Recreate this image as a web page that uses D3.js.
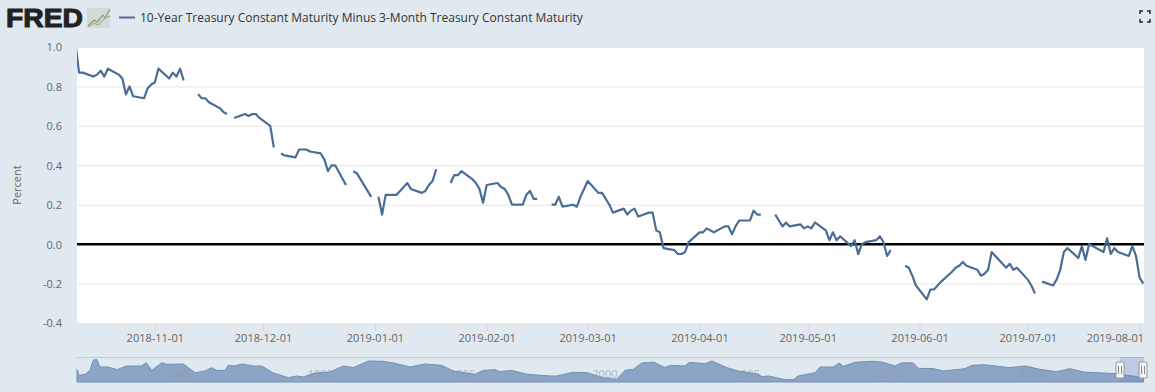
<!DOCTYPE html>
<html>
<head>
<meta charset="utf-8">
<script src="https://cdnjs.cloudflare.com/ajax/libs/d3/7.8.5/d3.min.js"></script>
<style>
html, body { margin: 0; padding: 0; background: #e1e9f0; overflow: hidden; }
text { font-family: "Open Sans", sans-serif; }
.axis text { fill: #666; font-size: 11px; }
</style>
</head>
<body>
<script>
var w = 1155;
var h = 392;

var seriesName = "10-Year Treasury Constant Maturity Minus 3-Month Treasury Constant Maturity";

//Tick labels
var yTicks = [-0.4, -0.2, 0, 0.2, 0.4, 0.6, 0.8, 1.0];
var xTicks = ["2018-11-01", "2018-12-01", "2019-01-01", "2019-02-01", "2019-03-01", "2019-04-01", "2019-05-01", "2019-06-01", "2019-07-01", "2019-08-01"];
var navTicks = [1985, 1990, 1995, 2000, 2005, 2010, 2015];

//Daily dates, one line per month, same layout as the spread array below
var tradeDates = [
    "2018-10-10","2018-10-11","2018-10-12","2018-10-15","2018-10-16","2018-10-17","2018-10-18","2018-10-19","2018-10-22","2018-10-23","2018-10-24","2018-10-25","2018-10-26","2018-10-29","2018-10-30","2018-10-31",
    "2018-11-01","2018-11-02","2018-11-05","2018-11-06","2018-11-07","2018-11-08","2018-11-09","2018-11-12","2018-11-13","2018-11-14","2018-11-15","2018-11-16","2018-11-19","2018-11-20","2018-11-21","2018-11-22","2018-11-23","2018-11-26","2018-11-27","2018-11-28","2018-11-29","2018-11-30",
    "2018-12-03","2018-12-04","2018-12-05","2018-12-06","2018-12-07","2018-12-10","2018-12-11","2018-12-12","2018-12-13","2018-12-14","2018-12-17","2018-12-18","2018-12-19","2018-12-20","2018-12-21","2018-12-24","2018-12-25","2018-12-26","2018-12-27","2018-12-28","2018-12-31",
    "2019-01-01","2019-01-02","2019-01-03","2019-01-04","2019-01-07","2019-01-08","2019-01-09","2019-01-10","2019-01-11","2019-01-14","2019-01-15","2019-01-16","2019-01-17","2019-01-18","2019-01-21","2019-01-22","2019-01-23","2019-01-24","2019-01-25","2019-01-28","2019-01-29","2019-01-30","2019-01-31",
    "2019-02-01","2019-02-04","2019-02-05","2019-02-06","2019-02-07","2019-02-08","2019-02-11","2019-02-12","2019-02-13","2019-02-14","2019-02-15","2019-02-18","2019-02-19","2019-02-20","2019-02-21","2019-02-22","2019-02-25","2019-02-26","2019-02-27","2019-02-28",
    "2019-03-01","2019-03-04","2019-03-05","2019-03-06","2019-03-07","2019-03-08","2019-03-11","2019-03-12","2019-03-13","2019-03-14","2019-03-15","2019-03-18","2019-03-19","2019-03-20","2019-03-21","2019-03-22","2019-03-25","2019-03-26","2019-03-27","2019-03-28","2019-03-29",
    "2019-04-01","2019-04-02","2019-04-03","2019-04-04","2019-04-05","2019-04-08","2019-04-09","2019-04-10","2019-04-11","2019-04-12","2019-04-15","2019-04-16","2019-04-17","2019-04-18","2019-04-19","2019-04-22","2019-04-23","2019-04-24","2019-04-25","2019-04-26","2019-04-29","2019-04-30",
    "2019-05-01","2019-05-02","2019-05-03","2019-05-06","2019-05-07","2019-05-08","2019-05-09","2019-05-10","2019-05-13","2019-05-14","2019-05-15","2019-05-16","2019-05-17","2019-05-20","2019-05-21","2019-05-22","2019-05-23","2019-05-24","2019-05-27","2019-05-28","2019-05-29","2019-05-30","2019-05-31",
    "2019-06-03","2019-06-04","2019-06-05","2019-06-06","2019-06-07","2019-06-10","2019-06-11","2019-06-12","2019-06-13","2019-06-14","2019-06-17","2019-06-18","2019-06-19","2019-06-20","2019-06-21","2019-06-24","2019-06-25","2019-06-26","2019-06-27","2019-06-28",
    "2019-07-01","2019-07-02","2019-07-03","2019-07-04","2019-07-05","2019-07-08","2019-07-09","2019-07-10","2019-07-11","2019-07-12","2019-07-15","2019-07-16","2019-07-17","2019-07-18","2019-07-19","2019-07-22","2019-07-23","2019-07-24","2019-07-25","2019-07-26","2019-07-29","2019-07-30","2019-07-31",
    "2019-08-01","2019-08-02"
];

//Spread in percent, null on market holidays
var spread = [
    1.02,0.87,0.87,0.85,0.86,0.88,0.85,0.89,0.86,0.84,0.76,0.80,0.75,0.74,0.79,0.81,
    0.82,0.89,0.84,0.87,0.85,0.89,0.83,null,0.76,0.74,0.74,0.72,0.69,0.67,0.66,null,0.64,0.66,0.65,0.66,0.66,0.64,
    0.60,0.49,null,0.46,0.45,0.44,0.48,0.48,0.48,0.47,0.46,0.43,0.37,0.40,0.40,0.30,null,0.37,0.36,0.33,0.24,
    null,0.24,0.15,0.25,0.25,0.27,0.29,0.31,0.28,0.26,0.27,0.30,0.32,0.38,null,0.31,0.35,0.35,0.37,0.33,0.31,0.28,0.21,
    0.30,0.31,0.29,0.28,0.25,0.20,0.20,0.25,0.27,0.23,0.23,null,0.20,0.20,0.24,0.19,0.20,0.19,0.24,0.28,
    0.32,0.26,0.26,0.23,0.20,0.16,0.18,0.15,0.17,0.18,0.14,0.16,0.16,0.07,0.06,-0.02,-0.03,-0.05,-0.05,-0.04,0.01,
    0.06,0.06,0.08,0.07,0.06,0.09,0.09,0.05,0.09,0.12,0.12,0.17,0.15,0.15,null,0.15,0.12,0.09,0.11,0.09,0.10,0.08,
    0.09,0.08,0.11,0.07,0.02,0.06,0.02,0.04,-0.01,0.02,-0.05,0.00,0.01,0.02,0.04,0.01,-0.06,-0.03,null,-0.11,-0.12,-0.16,-0.21,
    -0.28,-0.23,-0.23,-0.21,-0.19,-0.14,-0.12,-0.11,-0.09,-0.11,-0.13,-0.16,-0.15,-0.13,-0.04,-0.10,-0.12,-0.10,-0.13,-0.12,
    -0.18,-0.21,-0.25,null,-0.19,-0.21,-0.18,-0.13,-0.04,-0.02,-0.07,-0.01,-0.08,0.00,-0.01,-0.04,0.03,-0.05,-0.02,-0.04,-0.06,-0.01,-0.06,
    -0.17,-0.20
];

//Full history shown in the navigator strip
var navYears = [1982.1,1982.18,1982.38,1982.56,1982.67,1982.79,1982.91,1983.2,1983.5,1983.85,1984.37,1984.53,1984.73,1985.08,1985.25,1985.84,1986.25,1986.6,1986.83,1987.01,1987.3,1987.42,1987.65,1987.89,1988.3,1988.59,1989,1989.53,1989.82,1990.05,1990.47,1990.99,1991.46,1991.81,1992.34,1992.86,1993.22,1993.8,1994.33,1994.91,1995.32,1996.09,1996.38,1996.79,1996.96,1997.37,1997.91,1998.73,1998.96,1999.54,2000.02,2000.6,2001.07,2001.36,2001.65,2001.95,2002.36,2002.77,2002.95,2003.47,2003.62,2004.17,2004.41,2004.94,2005.34,2006.05,2006.17,2006.4,2006.93,2007.28,2007.45,2008.04,2008.22,2008.68,2008.89,2009.03,2009.45,2010.03,2010.38,2010.85,2011.09,2011.49,2011.67,2012.2,2012.55,2013.31,2013.55,2013.96,2014.89,2015.42,2015.95,2016.53,2017,2017.47,2018.64,2019.58];
var navValues = [1.93,0.63,0.86,1.77,4.07,4.3,2.54,2.54,1.93,2.77,2.77,3.53,1.77,3.53,3.15,3.23,1.24,1.62,2.39,1.77,1.77,2.92,2.77,3.23,2.77,2.77,1.16,0.09,0.48,0.25,1.16,1.39,2.77,2.39,3.91,3.84,3.46,2.54,3.23,2.92,1.62,0.86,1.77,1.93,1.47,1.77,0.86,0.48,0.48,1.32,1.24,0.09,-0.29,1.77,2.0,3.46,3.68,2.39,2.92,2.77,3.61,3.3,3.91,2.39,1.62,0.86,0.32,0.48,-0.29,-0.37,0.48,1.24,2.54,2.54,3.46,2.69,3.61,3.84,3.68,2.77,3.53,3.46,2.23,2.16,1.62,2.16,2.92,3.07,2.39,2.77,2.0,1.47,2.16,1.39,1.01,0.09];

var parseDate = d3.timeParse("%Y-%m-%d");
var points = tradeDates.map(function(d, i) {
    return { date: parseDate(d), value: spread[i] };
});
var navPoints = navYears.map(function(d, i) {
    return { year: d, value: navValues[i] };
});

//Create SVG element
var svg = d3.select("body")
            .append("svg")
            .attr("width", w)
            .attr("height", h)
            .style("display", "block");

var plot = { left: 77, right: 1144, top: 47, bottom: 323 };

//x scale is set from two month ticks so the plot edges cut the first point
var x = d3.scaleTime()
    .domain([parseDate("2018-11-01"), parseDate("2019-08-01")])
    .range([154.8, 1139.6]);

var y = d3.scaleLinear()
    .domain([-0.4, 1])
    .range([plot.bottom, plot.top]);

//Plot background
svg.append("rect")
    .attr("x", plot.left)
    .attr("y", plot.top)
    .attr("width", plot.right - plot.left)
    .attr("height", plot.bottom - plot.top)
    .attr("fill", "#fff");

svg.append("clipPath")
    .attr("id", "plot-clip")
    .append("rect")
    .attr("x", plot.left)
    .attr("y", plot.top)
    .attr("width", plot.right - plot.left)
    .attr("height", plot.bottom - plot.top);

//y axis with gridlines
var yAxis = svg.append("g")
    .attr("class", "axis")
    .attr("transform", "translate(" + plot.left + ",0)")
    .call(d3.axisLeft(y)
        .tickValues(yTicks)
        .tickFormat(d3.format(".1f"))
        .tickSize(-(plot.right - plot.left))
        .tickPadding(15));
yAxis.select(".domain").remove();
yAxis.selectAll("line").attr("stroke", "#e6e6e6");
yAxis.selectAll("text").attr("dy", "0.36em").text(function(d) { return d3.format(".1f")(d).replace("−", "-"); });

//Zero line sits on top of the grid
svg.append("line")
    .attr("x1", plot.left)
    .attr("x2", plot.right)
    .attr("y1", y(0))
    .attr("y2", y(0))
    .attr("stroke", "#000")
    .attr("stroke-width", 2.5);

//x axis, the last label is pulled back inside the chart
var xAxis = svg.append("g")
    .attr("class", "axis")
    .attr("transform", "translate(0," + plot.bottom + ")")
    .call(d3.axisBottom(x)
        .tickValues(xTicks.map(parseDate))
        .tickFormat(d3.timeFormat("%Y-%m-%d"))
        .tickSize(8)
        .tickPadding(3));
xAxis.select(".domain").remove();
xAxis.selectAll("line").attr("stroke", "#ccd6eb");
xAxis.selectAll("text")
    .attr("text-anchor", function(d, i) { return i == xTicks.length - 1 ? "end" : "middle"; })
    .attr("dx", function(d, i) { return i == xTicks.length - 1 ? 4 : 0; });

//Series line, broken where the value is null
var line = d3.line()
    .defined(function(d) { return d.value != null; })
    .x(function(d) { return x(d.date); })
    .y(function(d) { return y(d.value); });

svg.append("path")
    .datum(points)
    .attr("clip-path", "url(#plot-clip)")
    .attr("d", line)
    .attr("fill", "none")
    .attr("stroke", "#4a6d96")
    .attr("stroke-width", 2.2)
    .attr("stroke-linejoin", "round");

//y axis title
svg.append("text")
    .attr("transform", "translate(21,185) rotate(-90)")
    .attr("text-anchor", "middle")
    .attr("fill", "#666")
    .attr("font-size", 11)
    .text("Percent");

//Navigator strip
var navX = d3.scaleLinear()
    .domain([1982.1, 2019.6])
    .range([plot.left, plot.right]);

var navY = d3.scaleLinear()
    .domain([-0.9, 4.6])
    .range([382, 358]);

var navArea = d3.area()
    .x(function(d) { return navX(d.year); })
    .y0(navY(-0.9))
    .y1(function(d) { return navY(d.value); });

svg.append("line")
    .attr("x1", plot.left)
    .attr("x2", plot.right)
    .attr("y1", 357.5)
    .attr("y2", 357.5)
    .attr("stroke", "#c8ccd0");

svg.append("path")
    .datum(navPoints)
    .attr("d", navArea)
    .attr("fill", "#8ca5c6")
    .attr("stroke", "#6f8fb5")
    .attr("stroke-width", 1);

svg.selectAll(".nav-year")
    .data(navTicks)
    .enter()
    .append("text")
    .attr("class", "nav-year")
    .attr("x", function(d) { return navX(d) + 6; })
    .attr("y", 378)
    .attr("fill", "#8d97a3")
    .attr("fill-opacity", 0.7)
    .attr("font-size", 11)
    .text(function(d) { return d; });

//Selected range in the navigator
svg.append("rect")
    .attr("x", 1120)
    .attr("y", 357)
    .attr("width", plot.right - 1120)
    .attr("height", 25)
    .attr("fill", "#6685c2")
    .attr("fill-opacity", 0.3);

//Navigator handles
[1120, 1143].forEach(function(cx) {
    var handle = svg.append("g").attr("transform", "translate(" + cx + ",370)");
    handle.append("rect")
        .attr("x", -4)
        .attr("y", -8)
        .attr("width", 8)
        .attr("height", 16)
        .attr("rx", 1)
        .attr("fill", "#f4f4f4")
        .attr("stroke", "#999");
    [-1.5, 1.5].forEach(function(dx) {
        handle.append("line")
            .attr("x1", dx).attr("x2", dx)
            .attr("y1", -4).attr("y2", 4)
            .attr("stroke", "#888");
    });
});

//FRED logo
svg.append("text")
    .attr("x", 6)
    .attr("y", 27)
    .attr("fill", "#222")
    .attr("stroke", "#222")
    .attr("stroke-width", 1)
    .style("font-family", "'Liberation Sans', sans-serif")
    .attr("font-weight", "bold")
    .attr("font-size", 26)
    .attr("textLength", 77)
    .attr("lengthAdjust", "spacingAndGlyphs")
    .text("FRED");

svg.append("rect")
    .attr("x", 87)
    .attr("y", 8)
    .attr("width", 23)
    .attr("height", 20)
    .attr("fill", "#d3dbd8");

svg.append("path")
    .attr("d", "M88,26 L94,20 L97,22 L103,15 L105,18 L110,9")
    .attr("fill", "none")
    .attr("stroke", "#8c9a80")
    .attr("stroke-width", 1.2);

svg.append("path")
    .attr("d", "M88,27 L94,23 L98,25 L104,19 L110,16")
    .attr("fill", "none")
    .attr("stroke", "#a9b592")
    .attr("stroke-width", 1.2);

//Legend
svg.append("line")
    .attr("x1", 119)
    .attr("x2", 135)
    .attr("y1", 17.5)
    .attr("y2", 17.5)
    .attr("stroke", "#4a6d96")
    .attr("stroke-width", 2);

svg.append("text")
    .attr("x", 140)
    .attr("y", 22)
    .attr("fill", "#333")
    .attr("font-size", 12)
    .text(seriesName);

//Fullscreen icon, four corners
var corners = ["M1140,14 V11 H1143", "M1147,11 H1150 V14", "M1150,19 V22 H1147", "M1143,22 H1140 V19"];
svg.selectAll(".corner")
    .data(corners)
    .enter()
    .append("path")
    .attr("class", "corner")
    .attr("d", function(d) { return d; })
    .attr("fill", "none")
    .attr("stroke", "#222")
    .attr("stroke-width", 1.5);
</script>
</body>
</html>
